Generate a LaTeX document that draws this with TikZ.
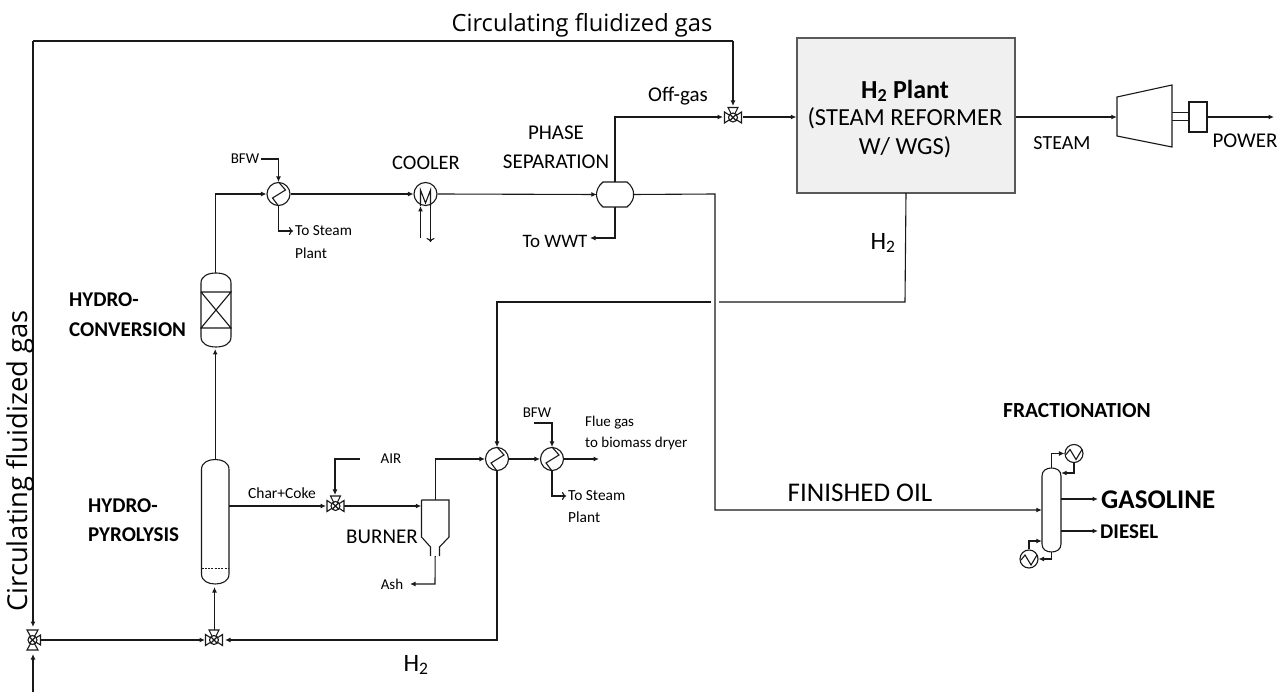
\documentclass[tikz,border=0pt]{standalone}
\usepackage{fontspec}
\setmainfont{Carlito}
\newfontfamily\widefont{Open Sans}
\usetikzlibrary{arrows.meta}
\tikzset{
  x=1pt,y=-1pt,
  pipe/.style={draw=black!90,line width=1.1pt},
  flow/.style={pipe,-{Latex[length=5.5pt,width=5pt]}},
  open/.style={pipe,-{To[length=4pt,width=8pt]}},
  equip/.style={draw=black!90,line width=1.1pt,fill=white},
  txt/.style={inner sep=0pt,font=\fontsize{#1}{#1}\selectfont},
  btxt/.style={inner sep=0pt,font=\fontsize{#1}{#1}\selectfont\bfseries},
  hxnode/.style={circle,equip,minimum size=23pt,inner sep=0pt},
  smallhx/.style={circle,equip,minimum size=18pt,inner sep=0pt},
  port/.style={inner sep=0pt,minimum size=0pt},
  ghost/.style={rectangle,inner sep=0pt,minimum width=#1},
}
\newcommand{\zig}[2]{\draw[pipe] (#1,#2) ++(0,-12) -- ++(7,8) -- ++(-13,8) -- ++(6,8);}
\newcommand{\zigs}[2]{\draw[pipe] (#1,#2) ++(-8,1) -- ++(4,-5) -- ++(6,10) -- ++(6,-10);}
% vessel outline: left right top bottom cap
\newcommand{\vessel}[5]{%
  \pgfmathsetmacro{\vm}{(#1+#2)/2}\pgfmathsetmacro{\va}{#3+#5}\pgfmathsetmacro{\vb}{#4-#5}%
  \pgfmathsetmacro{\vq}{#1+(#2-#1)*0.24}\pgfmathsetmacro{\vr}{#2-(#2-#1)*0.24}%
  \draw[equip] (#1,\va) .. controls (#1,#3+#5*0.3) and (\vq,#3) .. (\vm,#3)
     .. controls (\vr,#3) and (#2,#3+#5*0.3) .. (#2,\va) -- (#2,\vb)
     .. controls (#2,#4-#5*0.3) and (\vr,#4) .. (\vm,#4)
     .. controls (\vq,#4) and (#1,#4-#5*0.3) .. (#1,\vb) -- cycle;}
\newcommand{\valveh}[3]{%
  \draw[equip] (#2-8.5,#3-5.5) -- (#2+8.5,#3+5.5) -- (#2+8.5,#3-5.5) -- (#2-8.5,#3+5.5) -- cycle;
  \draw[equip] (#2,#3) -- (#2-5,#3-10) -- (#2+5,#3-10) -- cycle;
  \draw[equip] (#2,#3) circle (4.5pt);
  \draw[pipe] (#2-3,#3-3) -- (#2+3,#3+3) (#2+3,#3-3) -- (#2-3,#3+3);
  \node[port] (#1) at (#2,#3) {};}
\newcommand{\valvev}[3]{%
  \draw[equip] (#2-5.5,#3-10) -- (#2+5.5,#3+10) -- (#2-5.5,#3+10) -- (#2+5.5,#3-10) -- cycle;
  \draw[equip] (#2,#3) -- (#2+8,#3-5) -- (#2+8,#3+5) -- cycle;
  \draw[equip] (#2,#3) circle (4.5pt);
  \draw[pipe] (#2-3,#3-3) -- (#2+3,#3+3) (#2+3,#3-3) -- (#2-3,#3+3);
  \node[port] (#1) at (#2,#3) {};}
\begin{document}
\begin{tikzpicture}
\useasboundingbox (0,0) rectangle (1278,692);

% ---------- free ends
\coordinate (nw) at (33,41);
\coordinate (ne) at (733,41);
\coordinate (src) at (33,692);
\coordinate (bfw1) at (261,159);
\coordinate (bfw1c) at (278.5,159);
\coordinate (ts1c) at (278.5,231);
\coordinate (ts1) at (293,231);
\coordinate (cwin) at (420.5,238);
\coordinate (cwintip) at (420.5,206);
\coordinate (cwouts) at (430.5,205);
\coordinate (cwout) at (430.5,242);
\coordinate (airs) at (360,459);
\coordinate (airc) at (335,459);
\coordinate (bfw2) at (534,423);
\coordinate (bfw2c) at (552,423);
\coordinate (ts2c) at (552,496);
\coordinate (ts2) at (566,496);
\coordinate (fg) at (599,459);
\coordinate (ash) at (410,584);
\coordinate (ashc) at (435,584);
\coordinate (ww) at (590,238);
\coordinate (wwc) at (615,238);
\coordinate (og) at (615,117);
\coordinate (foc) at (715,194);
\coordinate (fod) at (715,510);
\coordinate (h2c) at (905,302);
\coordinate (h2a) at (719,302);
\coordinate (h2b) at (711,302);
\coordinate (h2d) at (497,302);
\coordinate (h2e) at (497,640);
\coordinate (pw) at (1274,117);
\coordinate (gs) at (1098,499);
\coordinate (ds) at (1098,531);

% ---------- equipment
\node[draw=black!65,line width=1.4pt,fill=black!6,minimum width=218pt,minimum height=155pt,inner sep=0pt] (h2plant) at (906,115.5) {};
\node[btxt=26] (h2t) at (905,91) {H\textsubscript{2} Plant};
\node[txt=24.5] (h2u) at (905,118) {(STEAM REFORMER};
\node[txt=24.5] (h2v) at (905,147) {W/ WGS)};

\vessel{201}{231}{273}{347}{10}
\node[ghost=30pt,minimum height=74pt] (hc) at (216,310) {};
\draw[pipe] (201,292) -- (231,292) -- (201,328) -- (231,328) -- (201,292);
\vessel{201.5}{229}{459.5}{584}{10}
\node[ghost=27.5pt,minimum height=124.5pt] (hp) at (215.2,521.7) {};
\draw[pipe,dash pattern=on 2pt off 1.3pt,line width=0.9pt] (201.5,568) -- (229,568);

\node[hxnode] (hx1) at (278.5,194) {};
\node[hxnode] (cool) at (425.5,194) {};
\node[hxnode] (hx2) at (497,459) {};
\node[hxnode] (hx3) at (552,459) {};
\zig{278.5}{194}
\zig{497}{459}
\zig{552}{459}
\draw[pipe] (420.5,206) -- (420.5,190) -- (425.5,203) -- (430.5,190) -- (430.5,206);

\node[ghost=36pt,minimum height=25pt] (sep) at (615,194.5) {};
\draw[equip] (603,182) -- (627,182) .. controls (632,186) and (634,191) .. (633.5,194.5)
  .. controls (634,198) and (632,203) .. (627,207) -- (603,207)
  .. controls (598,203) and (596.5,198) .. (596.5,194.5)
  .. controls (596.5,191) and (598,186) .. (603,182) -- cycle;

\node[ghost=27.5pt,minimum height=56pt] (burner) at (435.2,528) {};
\draw[pipe,line join=miter] (421.5,500) -- (449,500) -- (449,537) -- (439.5,547) -- (439.5,556)
   (421.5,500) -- (421.5,537) -- (430.5,547) -- (430.5,556);

\draw[pipe] (1172,112.5) -- (1189,112.5) (1172,120.5) -- (1189,120.5);
\draw[equip] (1117,97) -- (1172,85) -- (1172,147) -- (1117,136) -- cycle;
\node[ghost=55pt,minimum height=40pt] (turb) at (1144.5,116.5) {};
\node[equip,minimum width=18pt,minimum height=30pt,inner sep=0pt] (gen) at (1198,117) {};

\vessel{1042}{1061}{468}{552}{8}
\node[ghost=19pt,minimum height=84pt] (col) at (1051.5,510) {};
\node[smallhx] (cond) at (1074,453.5) {};
\node[smallhx] (reb) at (1029,559) {};
\zigs{1074}{453.5}
\zigs{1029}{559}

% ---------- pipes
\draw[pipe] (nw) -- (ne);
\draw[flow] (nw) -- (33,627);
\draw[flow] (src) -- (33,654);
\draw[flow] (hp.north) -- (215.2,349);
\draw[flow] (hc.north -| hp.north) -- (hp.north |- hx1) -- (hx1.west);
\draw[flow] (bfw1) -- (bfw1c) -- (hx1.north);
\draw[open] (hx1.south) -- (ts1c) -- (ts1);
\draw[flow] (hx1.east) -- (cool.west);
\draw[flow] (cwin) -- (cwintip);
\draw[open] (cwouts) -- (cwout);
\draw[flow] (cool.east) -- (sep.west);
\draw[flow] (sep.north) -- (og) -- (723,117);
\draw[flow] (sep.south) -- (wwc) -- (ww);
\draw[flow] (sep.east) -- (foc) -- (fod) -- (col.west |- fod);
\draw[flow] (743,117) -- (h2plant.west |- 0,117);
\draw[flow] (h2plant.east |- 0,117) -- (turb.west |- 0,117);
\draw[flow] (gen.east |- pw) -- (pw);
% H2 loop, broken where it crosses the finished oil line
\draw[pipe] (h2plant.south |- 0,193) -- (h2c) -- (h2a);
\draw[flow] (h2b) -- (h2d) -- (hx2.north);
\draw[flow] (hx2.south) -- (h2e) -- (225,640);
\draw[flow] (hp.east |- 0,506) -- (326,506);
\draw[flow] (344,506) -- (burner.west |- 0,506);
\draw[flow] (airs) -- (airc) -- (335,495);
\draw[flow] (burner.north) -- (burner.north |- hx2) -- (hx2.west);
\draw[flow] (hx2.east) -- (hx3.west);
\draw[flow] (hx3.east) -- (fg);
\draw[flow] (bfw2) -- (bfw2c) -- (hx3.north);
\draw[open] (hx3.south) -- (ts2c) -- (ts2);
\draw[flow] (burner.south) -- (ashc) -- (ash);
\draw[flow] (col.east |- gs) -- (gs);
\draw[flow] (col.east |- ds) -- (ds);
\draw[flow] (col.north) -- (col.north |- cond) -- (cond.west);
\draw[flow] (cond.south) -- (cond |- 0,473) -- (col.east |- 0,473);
\draw[flow] (reb.north) -- (reb |- 0,541) -- (col.west |- 0,541);
\draw[flow] (col.south) -- (col |- reb) -- (reb.east);
\draw[flow] (41,640) -- (205,640);
\draw[flow] (214.5,630) -- (214.5,587);

% ---------- valves on top
\draw[flow] (ne) -- (733,106);
\valveh{v1}{733}{117.5}
\valveh{v2}{335.5}{506}
\valveh{v3}{214}{640}
\valvev{v4}{32.5}{640}

% ---------- labels
\node[inner sep=0pt,font=\widefont\fontsize{23.7}{24}\selectfont] (t1) at (582,25) {Circulating fluidized gas};
\node[inner sep=0pt,rotate=90,font=\widefont\fontsize{27.4}{28}\selectfont] (t2) at (20,461) {Circulating fluidized gas};
\node[txt=21] (t3) at (678,96) {Off-gas};
\node[txt=21] (t4) at (556,133) {PHASE};
\node[txt=21] (t5) at (556,162) {SEPARATION};
\node[txt=19] (t6) at (555,241) {To WWT};
\node[txt=20.5] (t7) at (426,163) {COOLER};
\node[txt=15] (t8) at (245,159) {BFW};
\node[txt=15.3,anchor=west] (t9) at (295,231) {To Steam};
\node[txt=15.3,anchor=west] (t10) at (295,253) {Plant};
\node[btxt=21,anchor=west] (t11) at (69,300) {HYDRO-};
\node[btxt=21,anchor=west] (t12) at (69,330) {CONVERSION};
\node[btxt=21,anchor=west] (t13) at (88,506) {HYDRO-};
\node[btxt=21,anchor=west] (t14) at (88,535) {PYROLYSIS};
\node[txt=15.5] (t15) at (282,493) {Char+Coke};
\node[txt=15] (t16) at (391,459) {AIR};
\node[txt=21] (t17) at (382,537) {BURNER};
\node[txt=15] (t18) at (392,584) {Ash};
\node[txt=15] (t19) at (537,413) {BFW};
\node[txt=15,anchor=west] (t20) at (585,423) {Flue gas};
\node[txt=15,anchor=west] (t21) at (585,444) {to biomass dryer};
\node[txt=15.4,anchor=west] (t22) at (568,496) {To Steam};
\node[txt=15.4,anchor=west] (t23) at (568,517) {Plant};
\node[txt=27] (t24) at (860,493) {FINISHED OIL};
\node[txt=25] (t25) at (416,665) {H\textsubscript{2}};
\node[txt=25] (t26) at (883,243) {H\textsubscript{2}};
\node[txt=20] (t27) at (1062,143) {STEAM};
\node[txt=21] (t28) at (1245,141) {POWER};
\node[btxt=21.5] (t29) at (1077,411) {FRACTIONATION};
\node[btxt=27,anchor=west] (t30) at (1101,500) {GASOLINE};
\node[btxt=21,anchor=west] (t31) at (1100,532) {DIESEL};
\end{tikzpicture}
\end{document}
